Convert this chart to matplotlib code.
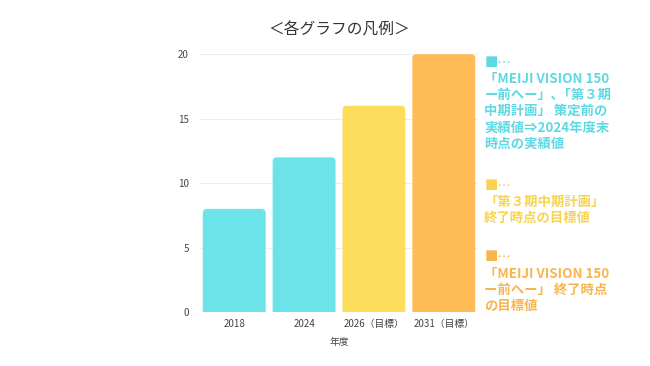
import matplotlib
matplotlib.use("Agg")
import matplotlib.pyplot as plt
from matplotlib.patches import FancyBboxPatch

plt.rcParams['font.family'] = ['Noto Sans CJK JP', 'DejaVu Sans']

# data
categories = ["2018", "2024", "2026（目標）", "2031（目標）"]
values = [8, 12, 16, 20]
bar_colors = ["#6BE3E8", "#6BE3E8", "#FFDD5C", "#FFBB55"]
y_ticks = [0, 5, 10, 15, 20]

title = "＜各グラフの凡例＞"
x_label = "年度"

legend_texts = [
    "■…\n「MEIJI VISION 150\nー前へー」､「第３期\n中期計画」 策定前の\n実績値⇒2024年度末\n時点の実績値",
    "■…\n「第３期中期計画」\n終了時点の目標値",
    "■…\n「MEIJI VISION 150\nー前へー」 終了時点\nの目標値",
]
legend_colors = ["#5ED8E2", "#F7D34F", "#F8B54E"]

fig = plt.figure(figsize=(6.5, 3.66), dpi=100, facecolor='w')
ax = fig.add_axes([0.3077, 0.1475, 0.4277, 0.7045])

x = range(len(categories))
bars = ax.bar(x, values, width=0.9, color=bar_colors)

# swap plain bars for ones with rounded tops
for b in bars:
    bx, by = b.get_x(), b.get_y()
    w, h = b.get_width(), b.get_height()
    rounded = FancyBboxPatch((bx, by - 1), w, h + 1,
                             boxstyle="round,pad=0,rounding_size=0.06",
                             mutation_aspect=5.4,
                             facecolor=b.get_facecolor(), edgecolor='none',
                             zorder=2)
    ax.add_patch(rounded)
    b.set_visible(False)

ax.set_xlim(-0.49, 3.49)
ax.set_ylim(0, 20)
ax.set_yticks(y_ticks)
ax.set_xticks(list(x))
ax.set_xticklabels(categories)
ax.tick_params(axis='both', length=0, labelsize=7, colors='#444444')
ax.tick_params(axis='x', pad=5)
ax.tick_params(axis='y', pad=8)
ax.grid(axis='y', color='#EEEEEE', linewidth=0.8, zorder=0)
ax.set_axisbelow(True)
for s in ax.spines.values():
    s.set_visible(False)

ax.set_xlabel(x_label, fontsize=7, color='#444444', labelpad=6)

fig.text(0.522, 0.918, title, ha='center', va='center', fontsize=11.3, color='#333333')

# coloured legend notes on the right
legend_y = [0.848, 0.512, 0.316]
for txt, col, yy in zip(legend_texts, legend_colors, legend_y):
    fig.text(0.745, yy, txt, ha='left', va='top', fontsize=9.6,
             fontweight='bold', color=col, linespacing=1.2)

fig.savefig("out.png", dpi=100)
